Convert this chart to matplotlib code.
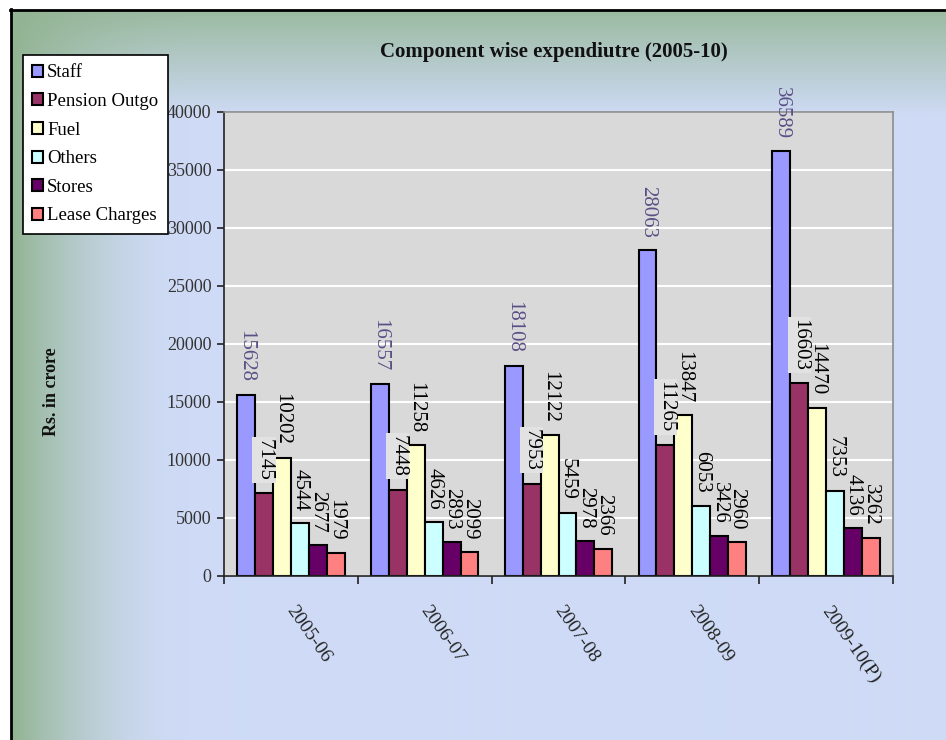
import numpy as np
import matplotlib
matplotlib.use("Agg")
import matplotlib.pyplot as plt
import matplotlib.transforms as mtransforms
from matplotlib.font_manager import FontProperties

# Expenditure by component, Rs. in crore
years = ["2005-06", "2006-07", "2007-08", "2008-09", "2009-10(P)"]
components = ["Staff", "Pension Outgo", "Fuel", "Others", "Stores", "Lease Charges"]
staff = [15628, 16557, 18108, 28063, 36589]
pension = [7145, 7448, 7953, 11265, 16603]
fuel = [10202, 11258, 12122, 13847, 14470]
others = [4544, 4626, 5459, 6053, 7353]
stores = [2677, 2893, 2978, 3426, 4136]
lease = [1979, 2099, 2366, 2960, 3262]
series = [staff, pension, fuel, others, stores, lease]
colors = ["#9999ff", "#993366", "#ffffcc", "#ccffff", "#660066", "#ff8080"]

serif = "Liberation Serif"
W, H = 946, 740
fig = plt.figure(figsize=(W / 100, H / 100), dpi=100)

# slide background: green on the left and top fading into pale blue
bg = fig.add_axes([0, 0, 1, 1], zorder=-10)
X, Y = np.meshgrid(np.arange(W), np.arange(H))
wl = np.clip(1 - (X - 12) / 175.0, 0, 1) ** 1.8
wt = np.clip(1 - (Y - 11) / 105.0, 0, 1) * 0.85
w = 1 - (1 - wl) * (1 - wt)
base = np.array([207, 219, 246]) / 255
green = np.array([146, 180, 146]) / 255
img = base * (1 - w[..., None]) + green * w[..., None]
bg.imshow(img, extent=(0, W, H, 0), aspect="auto", interpolation="bilinear")
bg.add_patch(plt.Rectangle((0, 0), W, 9, color="white"))
bg.add_patch(plt.Rectangle((0, 0), 10, H, color="white"))
bg.plot([10, W], [10, 10], color="black", lw=2)
bg.plot([11, 11], [9, H], color="black", lw=2)
bg.set_xlim(0, W)
bg.set_ylim(H, 0)
bg.axis("off")

ax = fig.add_axes([224 / W, 1 - 576 / H, (893 - 224) / W, (576 - 111.7) / H])
ax.set_facecolor("#d9d9d9")
ax.set_xlim(-0.5, 4.5)
ax.set_ylim(0, 40000)
ax.yaxis.grid(True, color="white", lw=1.5)
ax.set_axisbelow(True)

x = np.arange(len(years))
bw = 0.134
handles = []
for k, (vals, col) in enumerate(zip(series, colors)):
    pos = x + (k - 2.5) * bw
    bars = ax.bar(pos, vals, bw, color=col, edgecolor="black", lw=1.5,
                  label=components[k])
    handles.append(bars)
    for px, v in zip(pos, vals):
        kw = {}
        if k == 1:
            kw["bbox"] = dict(facecolor="#e2e2e2", edgecolor="none", pad=1.5)
        ax.annotate(str(v), (px, v), xytext=(0, 9), textcoords="offset points",
                    rotation=270, ha="center", va="bottom", fontsize=15,
                    family=serif, color="#5b4f86" if k == 0 else "black", **kw)

for side in ["left", "bottom"]:
    ax.spines[side].set_color("#222222")
    ax.spines[side].set_linewidth(1.2)
for side in ["top", "right"]:
    ax.spines[side].set_color("#8c8c8c")
    ax.spines[side].set_linewidth(1.2)

ax.set_yticks(np.arange(0, 40001, 5000))
ax.set_yticklabels([str(t) for t in range(0, 40001, 5000)], family=serif,
                   fontsize=13, color="#333333")
ax.tick_params(axis="y", length=5, width=1.2, color="#222222", pad=4)
ax.set_xticks(np.arange(-0.5, 5, 1))
ax.set_xticklabels([])
ax.tick_params(axis="x", length=6, width=1.2, color="#222222")

trans = mtransforms.blended_transform_factory(ax.transData, ax.transAxes)
for i, yr in enumerate(years):
    ax.text(i + 0.045, -27 / 464.3, yr, transform=trans, rotation=-55,
            rotation_mode="anchor", ha="left", va="top", fontsize=14,
            family=serif, color="#222222")

fig.text(554 / W, 1 - 52 / H, "Component wise expendiutre (2005-10)",
         ha="center", va="center", fontsize=15, weight="bold", family=serif,
         color="#111111")
fig.text(52 / W, 1 - 392 / H, "Rs. in crore", rotation=90, ha="center",
         va="center", fontsize=13, weight="bold", family=serif, color="#111111")

leg = fig.legend(handles, components, loc="upper left",
                 bbox_to_anchor=(22.7 / W, 1 - 55 / H),
                 bbox_transform=fig.transFigure, borderaxespad=0,
                 fancybox=False, edgecolor="black", framealpha=1,
                 prop=FontProperties(family=serif, size=13.5),
                 handlelength=0.6, handleheight=0.6, handletextpad=0.2,
                 labelspacing=0.62, borderpad=0.5)
leg.get_frame().set_linewidth(1.2)

fig.savefig("out.png", dpi=100)
